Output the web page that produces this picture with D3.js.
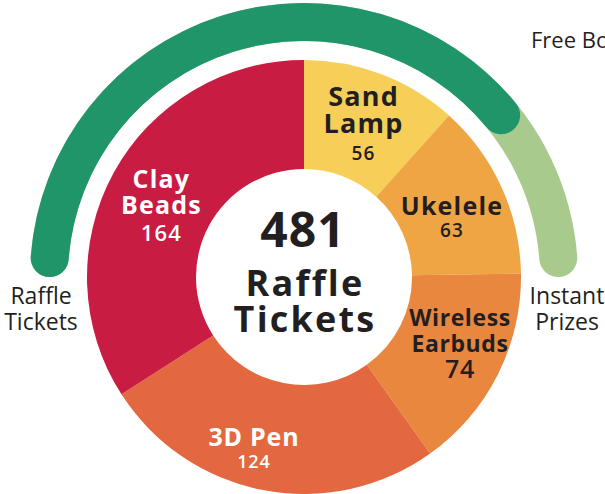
<!DOCTYPE html>
<html>
<head>
<meta charset="utf-8">
<script src="https://cdn.jsdelivr.net/npm/d3@7"></script>
<style>
  body { margin: 0; background: #fff; }
  text { font-family: "Open Sans", sans-serif; }
</style>
</head>
<body>
<div id="chart"></div>
<script>
// prizes, clockwise from 12 o'clock
var categories = ["Sand Lamp", "Ukelele", "Wireless Earbuds", "3D Pen", "Clay Beads"]
var tickets = [56, 63, 74, 124, 164]
var nameLines = [["Sand", "Lamp"], ["Ukelele"], ["Wireless", "Earbuds"], ["3D Pen"], ["Clay", "Beads"]]

// outer gauge, share of the half circle (percent)
var gaugeLabels = ["Raffle Tickets", "Instant Prizes"]
var gaugeShares = [80.5, 19.5]
var topLabel = "Free Bonus"
var centreLines = ["Raffle", "Tickets"]

var width = 605, height = 494
var cx = 304, cy = 277

var sliceColors = ["#f7cf58", "#f0a545", "#e9873f", "#e3683f", "#c81c42"]
var labelInk = ["#231f20", "#231f20", "#231f20", "#fff", "#fff"]
// font sizes / line spacing per label (name, value)
var labelStyle = [
  {name: 27, value: 19, gap: 27, vgap: 27, ls: 1.2, dx: 1, dy: -2},
  {name: 25, value: 19, gap: 24, vgap: 22, ls: 1.2, dx: 0, dy: 7},
  {name: 23, value: 25, gap: 26, vgap: 26, ls: 0.6, dx: 11, dy: -6},
  {name: 25, value: 18, gap: 24, vgap: 22, ls: 0.8, dx: -20, dy: 12},
  {name: 25, value: 22, gap: 26, vgap: 27, ls: 1.2, dx: -1, dy: 6}
]

var svg = d3.select("#chart").append("svg")
            .attr("width", width)
            .attr("height", height)

var g = svg.append("g")
           .attr("transform", "translate(" + cx + "," + cy + ")")

// gauge around the top
var gaugeScale = d3.scaleLinear()
                   .domain([0, 100])
                   .range([-Math.PI / 2, Math.PI / 2])

var gaugeArc = d3.arc()
                 .innerRadius(236)
                 .outerRadius(274)
                 .cornerRadius(19)

g.append("path")
  .attr("d", gaugeArc({startAngle: gaugeScale(0), endAngle: gaugeScale(100)}))
  .attr("fill", "#a9ca8d")

g.append("path")
  .attr("d", gaugeArc({startAngle: gaugeScale(0), endAngle: gaugeScale(gaugeShares[0])}))
  .attr("fill", "#1f9569")

// donut
var data = categories.map(function (c, i) {
  return {name: c, value: tickets[i], lines: nameLines[i], i: i}
})

var pie = d3.pie().sort(null).value(function (d) { return d.value })
var arcs = pie(data)

var arc = d3.arc().innerRadius(108).outerRadius(217)
var labelArc = d3.arc().innerRadius(162).outerRadius(162)

g.selectAll("path.slice").data(arcs)
  .enter().append("path")
  .attr("class", "slice")
  .attr("d", arc)
  .attr("fill", function (d) { return sliceColors[d.data.i] })

// slice labels, one text per slice with a tspan per line
var labels = g.selectAll("text.lab").data(arcs)
  .enter().append("text")
  .attr("class", "lab")
  .attr("text-anchor", "middle")
  .attr("font-weight", 700)
  .attr("fill", function (d) { return labelInk[d.data.i] })
  .attr("transform", function (d) {
    var c = labelArc.centroid(d)
    var s = labelStyle[d.data.i]
    return "translate(" + (c[0] + s.dx) + "," + (c[1] + s.dy) + ")"
  })

labels.each(function (d) {
  var s = labelStyle[d.data.i]
  var lines = d.data.lines
  var total = (lines.length - 1) * s.gap + s.vgap
  var y0 = -total / 2 + s.name * 0.36
  var sel = d3.select(this).attr("letter-spacing", s.ls)
  lines.forEach(function (t, k) {
    sel.append("tspan")
      .attr("x", s.ls / 2)
      .attr("y", y0 + k * s.gap)
      .attr("font-size", s.name)
      .text(t)
  })
  sel.append("tspan")
    .attr("x", s.ls / 2)
    .attr("y", y0 + (lines.length - 1) * s.gap + s.vgap)
    .attr("font-size", s.value)
    .attr("font-weight", 600)
    .text(d.data.value)
})

// centre total
var centre = g.append("text")
  .attr("text-anchor", "middle")
  .attr("font-weight", 700)
  .attr("fill", "#231f20")

centre.append("tspan")
  .attr("x", -1)
  .attr("y", -30)
  .attr("font-size", 48)
  .attr("letter-spacing", 1)
  .text(d3.sum(tickets))

centreLines.forEach(function (t, k) {
  centre.append("tspan")
    .attr("x", 1)
    .attr("y", 19 + k * 36)
    .attr("font-size", 36)
    .attr("letter-spacing", 2.2)
    .text(t)
})

// gauge end labels
var ends = [{x: 41, words: gaugeLabels[0].split(" ")}, {x: 567, words: gaugeLabels[1].split(" ")}]
ends.forEach(function (e) {
  var t = svg.append("text")
    .attr("text-anchor", "middle")
    .attr("font-size", 23)
    .attr("fill", "#231f20")
  e.words.forEach(function (w, k) {
    t.append("tspan")
      .attr("x", e.x)
      .attr("y", 304 + k * 26)
      .text(w)
  })
})

svg.append("text")
  .attr("x", 531)
  .attr("y", 48)
  .attr("font-size", 22)
  .attr("fill", "#231f20")
  .text(topLabel)
</script>
</body>
</html>
